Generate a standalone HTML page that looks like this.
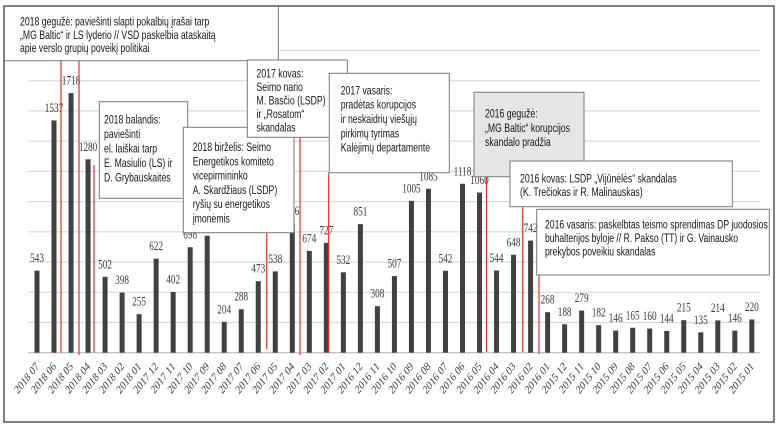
<!DOCTYPE html>
<html><head><meta charset="utf-8">
<style>html,body{margin:0;padding:0;background:#fff}svg{display:block}</style>
</head><body>
<svg width="780" height="435" viewBox="0 0 780 435" xmlns="http://www.w3.org/2000/svg">
<rect x="0" y="0" width="780" height="435" fill="#fff"/>
<!-- gridlines -->
<g stroke="#d9d9d9" stroke-width="1.2">
<line x1="28" x2="760" y1="50.5" y2="50.5"/>
<line x1="28" x2="760" y1="80.7" y2="80.7"/>
<line x1="28" x2="760" y1="110.9" y2="110.9"/>
<line x1="28" x2="760" y1="141.2" y2="141.2"/>
<line x1="28" x2="760" y1="171.4" y2="171.4"/>
<line x1="28" x2="760" y1="201.6" y2="201.6"/>
<line x1="28" x2="760" y1="231.8" y2="231.8"/>
<line x1="28" x2="760" y1="262.0" y2="262.0"/>
<line x1="28" x2="760" y1="292.3" y2="292.3"/>
<line x1="28" x2="760" y1="322.5" y2="322.5"/>
</g>
<line x1="28" x2="760" y1="352.7" y2="352.7" stroke="#c4c4c4" stroke-width="1.3"/>
<!-- bars -->
<g fill="#414141">
<rect x="34.5" y="270.65" width="5" height="82.05"/>
<rect x="51.52" y="120.46" width="5" height="232.24"/>
<rect x="68.54" y="93.11" width="5" height="259.59"/>
<rect x="85.56" y="159.29" width="5" height="193.41"/>
<rect x="102.58" y="276.85" width="5" height="75.85"/>
<rect x="119.6" y="292.56" width="5" height="60.14"/>
<rect x="136.62" y="314.17" width="5" height="38.53"/>
<rect x="153.64" y="258.72" width="5" height="93.98"/>
<rect x="170.66" y="291.96" width="5" height="60.74"/>
<rect x="187.68" y="247.23" width="5" height="105.47"/>
<rect x="204.7" y="235.75" width="5" height="116.95"/>
<rect x="221.72" y="321.88" width="5" height="30.82"/>
<rect x="238.74" y="309.18" width="5" height="43.52"/>
<rect x="255.76" y="281.23" width="5" height="71.47"/>
<rect x="272.78" y="271.41" width="5" height="81.29"/>
<rect x="289.8" y="223.36" width="5" height="129.34"/>
<rect x="306.82" y="250.86" width="5" height="101.84"/>
<rect x="323.84" y="242.85" width="5" height="109.85"/>
<rect x="340.86" y="272.31" width="5" height="80.39"/>
<rect x="357.88" y="224.11" width="5" height="128.59"/>
<rect x="374.9" y="306.16" width="5" height="46.54"/>
<rect x="391.92" y="276.09" width="5" height="76.61"/>
<rect x="408.94" y="200.84" width="5" height="151.86"/>
<rect x="425.96" y="188.76" width="5" height="163.94"/>
<rect x="442.98" y="270.8" width="5" height="81.9"/>
<rect x="460.0" y="183.77" width="5" height="168.93"/>
<rect x="477.02" y="192.53" width="5" height="160.17"/>
<rect x="494.04" y="270.5" width="5" height="82.2"/>
<rect x="511.06" y="254.79" width="5" height="97.91"/>
<rect x="528.08" y="240.58" width="5" height="112.12"/>
<rect x="545.1" y="312.21" width="5" height="40.49"/>
<rect x="562.12" y="324.29" width="5" height="28.41"/>
<rect x="579.14" y="310.54" width="5" height="42.16"/>
<rect x="596.16" y="325.2" width="5" height="27.5"/>
<rect x="613.18" y="330.64" width="5" height="22.06"/>
<rect x="630.2" y="327.77" width="5" height="24.93"/>
<rect x="647.22" y="328.52" width="5" height="24.18"/>
<rect x="664.24" y="330.94" width="5" height="21.76"/>
<rect x="681.26" y="320.21" width="5" height="32.49"/>
<rect x="698.28" y="332.3" width="5" height="20.4"/>
<rect x="715.3" y="320.36" width="5" height="32.34"/>
<rect x="732.32" y="330.64" width="5" height="22.06"/>
<rect x="749.34" y="319.46" width="5" height="33.24"/>
</g>
<!-- value labels -->
<g font-family="'Liberation Serif', serif" font-size="12.5" fill="#3c3c3c" text-anchor="middle">
<text transform="translate(37,262.2) scale(0.74,1)">543</text>
<text transform="translate(54.02,112) scale(0.74,1)">1537</text>
<text transform="translate(71.04,84.6) scale(0.74,1)">1718</text>
<text transform="translate(88.06,150.8) scale(0.74,1)">1280</text>
<text transform="translate(105.08,268.4) scale(0.74,1)">502</text>
<text transform="translate(122.1,284.1) scale(0.74,1)">398</text>
<text transform="translate(139.12,305.7) scale(0.74,1)">255</text>
<text transform="translate(156.14,250.2) scale(0.74,1)">622</text>
<text transform="translate(173.16,283.5) scale(0.74,1)">402</text>
<text transform="translate(190.18,238.7) scale(0.74,1)">698</text>
<text transform="translate(207.2,227.3) scale(0.74,1)">774</text>
<text transform="translate(224.22,313.4) scale(0.74,1)">204</text>
<text transform="translate(241.24,300.7) scale(0.74,1)">288</text>
<text transform="translate(258.26,272.7) scale(0.74,1)">473</text>
<text transform="translate(275.28,262.9) scale(0.74,1)">538</text>
<text transform="translate(292.3,214.9) scale(0.74,1)">856</text>
<text transform="translate(309.32,242.4) scale(0.74,1)">674</text>
<text transform="translate(326.34,234.4) scale(0.74,1)">727</text>
<text transform="translate(343.36,263.8) scale(0.74,1)">532</text>
<text transform="translate(360.38,215.6) scale(0.74,1)">851</text>
<text transform="translate(377.4,297.7) scale(0.74,1)">308</text>
<text transform="translate(394.42,267.6) scale(0.74,1)">507</text>
<text transform="translate(411.44,192.3) scale(0.74,1)">1005</text>
<text transform="translate(428.46,180.3) scale(0.74,1)">1085</text>
<text transform="translate(445.48,262.3) scale(0.74,1)">542</text>
<text transform="translate(462.5,175.3) scale(0.74,1)">1118</text>
<text transform="translate(479.52,184) scale(0.74,1)">1060</text>
<text transform="translate(496.54,262) scale(0.74,1)">544</text>
<text transform="translate(513.56,246.3) scale(0.74,1)">648</text>
<text transform="translate(530.58,232.1) scale(0.74,1)">742</text>
<text transform="translate(547.6,303.7) scale(0.74,1)">268</text>
<text transform="translate(564.62,315.8) scale(0.74,1)">188</text>
<text transform="translate(581.64,302) scale(0.74,1)">279</text>
<text transform="translate(598.66,316.7) scale(0.74,1)">182</text>
<text transform="translate(615.68,322.1) scale(0.74,1)">146</text>
<text transform="translate(632.7,319.3) scale(0.74,1)">165</text>
<text transform="translate(649.72,320) scale(0.74,1)">160</text>
<text transform="translate(666.74,322.4) scale(0.74,1)">144</text>
<text transform="translate(683.76,311.7) scale(0.74,1)">215</text>
<text transform="translate(700.78,323.8) scale(0.74,1)">135</text>
<text transform="translate(717.8,311.9) scale(0.74,1)">214</text>
<text transform="translate(734.82,322.1) scale(0.74,1)">146</text>
<text transform="translate(751.84,311) scale(0.74,1)">220</text>
</g>
<!-- red lines -->
<g stroke="#e2312c" stroke-width="1.2">
<line x1="61" x2="61" y1="61" y2="352.5"/>
<line x1="79" x2="79" y1="61" y2="355"/>
<line x1="94" x2="94" y1="165" y2="352.5"/>
<line x1="266.7" x2="266.7" y1="232.7" y2="349"/>
<line x1="300" x2="300" y1="137.3" y2="355"/>
<line x1="328.7" x2="328.7" y1="172.7" y2="353"/>
<line x1="486.5" x2="486.5" y1="176.7" y2="352"/>
<line x1="522.7" x2="522.7" y1="206.7" y2="352"/>
<line x1="539" x2="539" y1="275" y2="354"/>
</g>
<!-- annotation boxes -->
<g font-family="'Liberation Sans', sans-serif" font-size="12" fill="#161616">
<!-- box 1 -->
<rect x="4" y="6" width="274.3" height="54.7" fill="#fff" stroke="#7a7a7a" stroke-width="1"/>
<g transform="translate(20,0) scale(0.725,1)">
<text x="0" y="25.5">2018 gegužė: paviešinti slapti pokalbių įrašai tarp</text>
<text x="0" y="38.8">„MG Baltic“ ir LS lyderio // VSD paskelbia ataskaitą</text>
<text x="0" y="52">apie verslo grupių poveikį politikai</text>
</g>
<!-- box 2 -->
<rect x="99.3" y="101.7" width="88.4" height="96.6" fill="#fff" stroke="#7a7a7a" stroke-width="1"/>
<g transform="translate(104,0) scale(0.725,1)">
<text x="0" y="123.3">2018 balandis:</text>
<text x="0" y="137.9">paviešinti</text>
<text x="0" y="152.5">el. laiškai tarp</text>
<text x="0" y="167.1">E. Masiulio (LS) ir</text>
<text x="0" y="181.7">D. Grybauskaitės</text>
</g>
<!-- box 3 -->
<rect x="183.3" y="127.3" width="110.7" height="105.4" fill="#fff" stroke="#7a7a7a" stroke-width="1"/>
<g transform="translate(192.7,0) scale(0.725,1)">
<text x="0" y="151">2018 birželis: Seimo</text>
<text x="0" y="165.3">Energetikos komiteto</text>
<text x="0" y="179.6">vicepirmininko</text>
<text x="0" y="193.9">A. Skardžiaus (LSDP)</text>
<text x="0" y="208.2">ryšių su energetikos</text>
<text x="0" y="222.5">įmonėmis</text>
</g>
<!-- box 4 -->
<rect x="247.3" y="60" width="100" height="77.3" fill="#fff" stroke="#7a7a7a" stroke-width="1"/>
<g transform="translate(256.5,0) scale(0.725,1)">
<text x="0" y="77.5">2017 kovas:</text>
<text x="0" y="91">Seimo nario</text>
<text x="0" y="104.5">M. Basčio (LSDP)</text>
<text x="0" y="118">ir „Rosatom“</text>
<text x="0" y="131.5">skandalas</text>
</g>
<!-- box 5 -->
<rect x="329.3" y="73.3" width="120" height="99.4" fill="#fff" stroke="#7a7a7a" stroke-width="1"/>
<g transform="translate(340.7,0) scale(0.725,1)">
<text x="0" y="94.3">2017 vasaris:</text>
<text x="0" y="108.7">pradėtas korupcijos</text>
<text x="0" y="123">ir neskaidrių viešųjų</text>
<text x="0" y="137.4">pirkimų tyrimas</text>
<text x="0" y="151.7">Kalėjimų departamente</text>
</g>
<!-- box 6 -->
<rect x="474" y="92.3" width="110" height="84.4" fill="#e6e6e6" stroke="#7a7a7a" stroke-width="1"/>
<g transform="translate(485,0) scale(0.725,1)">
<text x="0" y="117.7">2016 gegužė:</text>
<text x="0" y="131.9">„MG Baltic“ korupcijos</text>
<text x="0" y="146.1">skandalo pradžia</text>
</g>
<!-- box 7 -->
<rect x="510" y="161" width="222.3" height="45.7" fill="#fff" stroke="#7a7a7a" stroke-width="1"/>
<g transform="translate(520,0) scale(0.725,1)">
<text x="0" y="182.5">2016 kovas: LSDP „Vijūnėlės“ skandalas</text>
<text x="0" y="196">(K. Trečiokas ir R. Malinauskas)</text>
</g>
<!-- box 8 -->
<rect x="536.7" y="209.3" width="232.6" height="65.7" fill="#fff" stroke="#7a7a7a" stroke-width="1"/>
<g transform="translate(545,0) scale(0.72,1)">
<text x="0" y="228.5">2016 vasaris: paskelbtas teismo sprendimas DP juodosios</text>
<text x="0" y="242">buhalterijos byloje // R. Pakso (TT) ir G. Vainausko</text>
<text x="0" y="255.5">prekybos poveikiu skandalas</text>
</g>
</g>
<!-- axis labels -->
<g font-family="'Liberation Serif', serif" font-size="12" fill="#3c3c3c" text-anchor="end">
<text transform="translate(39.5,367) scale(0.78,1) rotate(-45)">2018 07</text>
<text transform="translate(56.52,367) scale(0.78,1) rotate(-45)">2018 06</text>
<text transform="translate(73.54,367) scale(0.78,1) rotate(-45)">2018 05</text>
<text transform="translate(90.56,367) scale(0.78,1) rotate(-45)">2018 04</text>
<text transform="translate(107.58,367) scale(0.78,1) rotate(-45)">2018 03</text>
<text transform="translate(124.6,367) scale(0.78,1) rotate(-45)">2018 02</text>
<text transform="translate(141.62,367) scale(0.78,1) rotate(-45)">2018 01</text>
<text transform="translate(158.64,367) scale(0.78,1) rotate(-45)">2017 12</text>
<text transform="translate(175.66,367) scale(0.78,1) rotate(-45)">2017 11</text>
<text transform="translate(192.68,367) scale(0.78,1) rotate(-45)">2017 10</text>
<text transform="translate(209.7,367) scale(0.78,1) rotate(-45)">2017 09</text>
<text transform="translate(226.72,367) scale(0.78,1) rotate(-45)">2017 08</text>
<text transform="translate(243.74,367) scale(0.78,1) rotate(-45)">2017 07</text>
<text transform="translate(260.76,367) scale(0.78,1) rotate(-45)">2017 06</text>
<text transform="translate(277.78,367) scale(0.78,1) rotate(-45)">2017 05</text>
<text transform="translate(294.8,367) scale(0.78,1) rotate(-45)">2017 04</text>
<text transform="translate(311.82,367) scale(0.78,1) rotate(-45)">2017 03</text>
<text transform="translate(328.84,367) scale(0.78,1) rotate(-45)">2017 02</text>
<text transform="translate(345.86,367) scale(0.78,1) rotate(-45)">2017 01</text>
<text transform="translate(362.88,367) scale(0.78,1) rotate(-45)">2016 12</text>
<text transform="translate(379.9,367) scale(0.78,1) rotate(-45)">2016 11</text>
<text transform="translate(396.92,367) scale(0.78,1) rotate(-45)">2016 10</text>
<text transform="translate(413.94,367) scale(0.78,1) rotate(-45)">2016 09</text>
<text transform="translate(430.96,367) scale(0.78,1) rotate(-45)">2016 08</text>
<text transform="translate(447.98,367) scale(0.78,1) rotate(-45)">2016 07</text>
<text transform="translate(465,367) scale(0.78,1) rotate(-45)">2016 06</text>
<text transform="translate(482.02,367) scale(0.78,1) rotate(-45)">2016 05</text>
<text transform="translate(499.04,367) scale(0.78,1) rotate(-45)">2016 04</text>
<text transform="translate(516.06,367) scale(0.78,1) rotate(-45)">2016 03</text>
<text transform="translate(533.08,367) scale(0.78,1) rotate(-45)">2016 02</text>
<text transform="translate(550.1,367) scale(0.78,1) rotate(-45)">2016 01</text>
<text transform="translate(567.12,367) scale(0.78,1) rotate(-45)">2015 12</text>
<text transform="translate(584.14,367) scale(0.78,1) rotate(-45)">2015 11</text>
<text transform="translate(601.16,367) scale(0.78,1) rotate(-45)">2015 10</text>
<text transform="translate(618.18,367) scale(0.78,1) rotate(-45)">2015 09</text>
<text transform="translate(635.2,367) scale(0.78,1) rotate(-45)">2015 08</text>
<text transform="translate(652.22,367) scale(0.78,1) rotate(-45)">2015 07</text>
<text transform="translate(669.24,367) scale(0.78,1) rotate(-45)">2015 06</text>
<text transform="translate(686.26,367) scale(0.78,1) rotate(-45)">2015 05</text>
<text transform="translate(703.28,367) scale(0.78,1) rotate(-45)">2015 04</text>
<text transform="translate(720.3,367) scale(0.78,1) rotate(-45)">2015 03</text>
<text transform="translate(737.32,367) scale(0.78,1) rotate(-45)">2015 02</text>
<text transform="translate(754.34,367) scale(0.78,1) rotate(-45)">2015 01</text>
</g>
<!-- outer frame -->
<rect x="4" y="6" width="770" height="416" fill="none" stroke="#4a4a4a" stroke-width="1.4"/>
</svg>
</body></html>
